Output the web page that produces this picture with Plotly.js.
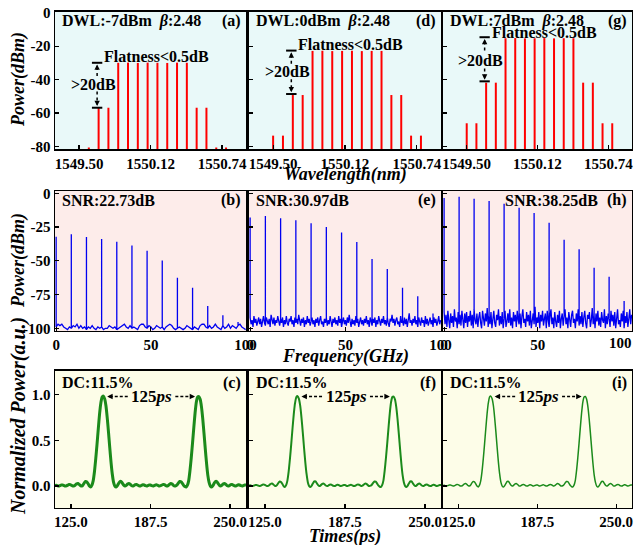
<!DOCTYPE html>
<html><head><meta charset="utf-8">
<script src="https://cdn.plot.ly/plotly-3.0.1.min.js"></script>
<style>html,body{margin:0;padding:0;background:#fff}#chart{width:636px;height:545px}</style>
</head><body><div id="chart"></div>
<script>
// ---------- Row 1 : optical spectra ----------
const wavelengthNm = [1549.500,1549.585,1549.670,1549.755,1549.840,1549.925,1550.010,1550.095,1550.180,1550.265,1550.350,1550.435,1550.520,1550.605,1550.690,1550.775];
const powerA = [-80.6,-80.6,-56.8,-56.8,-29.9,-29.8,-30.0,-29.8,-29.9,-30.0,-29.8,-29.9,-56.8,-56.8,-80.6,-80.6];
const powerD = [-73.5,-73.5,-49.2,-49.2,-22.8,-22.7,-22.9,-22.8,-22.7,-22.9,-22.8,-22.8,-49.2,-49.2,-73.5,-73.5];
const powerG = [-66.1,-66.1,-41.8,-41.8,-15.2,-15.1,-15.3,-15.2,-15.1,-15.3,-15.2,-15.2,-41.8,-41.8,-66.1,-66.1];
const wlTickVals = [1549.50,1550.12,1550.74];
const wlTickText = ['1549.50','1550.12','1550.74'];
const dwlLabels = ['DWL:-7dBm\u00a0\u00a0<i>β</i>:2.48','DWL:0dBm\u00a0\u00a0<i>β</i>:2.48','DWL:7dBm\u00a0\u00a0<i>β</i>:2.48'];
// >20dB marker levels [upper bar, lower bar, text level, flatness text level]
const markerA = [-29.9,-56.8,-42.6,-26.4];
const markerD = [-22.6,-48.6,-35.2,-18.7];
const markerG = [-14.6,-41.0,-28.8,-11.5];

// ---------- Row 2 : RF spectra ----------
const rfPeakFreq = [0,8,16,24,32,40,48,56,64,72,80,88,96];
const rfPeakB = [-32.2,-30.4,-32.4,-33.9,-35.9,-38.6,-42.5,-49.7,-62.5,-70.0,-83.5,-90.4,-95.4];
const rfPeakE = [-18.0,-16.9,-18.5,-20.0,-22.2,-25.0,-29.0,-36.1,-48.7,-56.1,-70.0,-76.3,-89.0];
const rfPeakH = [-3.5,-2.6,-4.0,-5.7,-7.8,-10.7,-14.6,-21.8,-34.4,-41.5,-55.1,-61.8,-79.8];
const rfTickVals = [0,50,100];
const rfTickText = ['0','50','100'];
const snrLabels = ['SNR:22.73dB','SNR:30.97dB','SNR:38.25dB'];
// noise floor, panel (b): 1 GHz steps from 0 GHz
const noiseB = [-99,-97,-98,-97,-99,-100,-101,-99,-100,-98,-99,-97,-100,-98,-100,-99,-101,-99,-100,-98,
-100,-101,-99,-100,-99,-101,-100,-100,-98,-99,-100,-99,-101,-100,-99,-98,-97,-99,-100,-98,
-100,-99,-100,-101,-98,-97,-97,-99,-100,-98,-99,-101,-100,-98,-99,-100,-99,-101,-99,-98,
-97,-98,-100,-101,-100,-99,-100,-101,-100,-98,-99,-100,-101,-99,-100,-101,-98,-97,-97,-99,
-100,-98,-100,-99,-97,-99,-100,-101,-98,-100,-99,-97,-100,-98,-99,-100,-98,-97,-99,-100,-101];
// noise floor, panel (e): 0.5 GHz steps from 0 GHz
const noiseE = [-92,-97,-94,-99,-91,-96,-93,-98,-95,-92,-97,-93,-99,-94,-91,-96,-98,-92,-95,-97,
-93,-99,-90,-95,-97,-92,-98,-94,-96,-91,-95,-98,-93,-96,-92,-99,-94,-97,-91,-96,
-98,-93,-95,-91,-97,-94,-99,-92,-96,-93,-97,-90,-95,-98,-93,-96,-92,-99,-94,-97,
-91,-96,-93,-98,-95,-92,-97,-94,-99,-93,-96,-92,-98,-94,-91,-97,-95,-99,-93,-96,
-92,-98,-94,-97,-91,-95,-99,-93,-96,-92,-97,-94,-98,-91,-96,-93,-99,-95,-92,-97,
-94,-98,-92,-96,-90,-95,-99,-93,-97,-94,-98,-91,-96,-93,-99,-95,-92,-97,-94,-98,
-93,-96,-91,-97,-94,-99,-92,-95,-98,-93,-96,-92,-99,-94,-97,-91,-95,-98,-93,-96,
-91,-97,-94,-98,-92,-96,-99,-93,-95,-90,-96,-93,-98,-94,-92,-97,-95,-99,-91,-96,
-94,-98,-92,-97,-93,-99,-95,-89,-96,-94,-98,-93,-96,-91,-97,-94,-99,-92,-95,-98,
-92,-96,-94,-99,-91,-97,-93,-98,-95,-92,-97,-94,-99,-92,-96,-93,-98,-95,-91,-97,-94];
// noise floor, panel (h): 0.5 GHz steps from 0 GHz
const noiseH = [-88,-97,-90,-99,-87,-94,-100,-89,-96,-91,-99,-86,-95,-92,-100,-88,-97,-90,-98,-87,
-93,-100,-89,-96,-88,-99,-91,-95,-87,-98,-90,-100,-86,-94,-97,-89,-99,-92,-88,-96,
-100,-87,-93,-98,-89,-95,-85,-99,-91,-97,-88,-100,-92,-87,-96,-99,-90,-94,-86,-98,
-91,-97,-88,-100,-93,-87,-99,-95,-89,-96,-86,-98,-92,-100,-88,-95,-90,-99,-87,-94,
-97,-89,-100,-91,-86,-96,-93,-99,-88,-95,-90,-98,-87,-100,-94,-89,-97,-84,-99,-92,
-96,-88,-100,-90,-95,-87,-98,-93,-89,-100,-87,-94,-99,-91,-86,-97,-92,-100,-88,-95,
-99,-90,-96,-87,-100,-93,-89,-98,-91,-86,-97,-92,-100,-88,-94,-99,-90,-87,-96,-93,
-100,-89,-95,-86,-98,-91,-97,-88,-99,-92,-87,-96,-100,-90,-93,-88,-99,-94,-85,-97,
-91,-100,-89,-95,-87,-98,-92,-99,-88,-94,-96,-86,-100,-91,-97,-89,-93,-99,-87,-95,
-90,-98,-88,-100,-92,-86,-97,-94,-99,-89,-95,-87,-100,-91,-96,-88,-99,-93,-86,-97,-90];

// ---------- Row 3 : temporal pulses ----------
const timeStartPs = 112.5, timeStepPs = 1.0;
const pulseTrace = [
0.006,0.008,0.004,0.0,0.006,0.012,0.012,0.006,0.0,0.003,0.01,0.018,0.016,0.008,0.0,0.002,0.012,0.025,0.028,0.018,0.005,0.0,0.012,0.035,0.05,0.045,0.025,0.0,-0.01,
0.01,0.06,0.16,0.30,0.46,0.63,0.79,0.91,0.975,0.985,0.955,0.88,0.75,0.59,0.42,0.26,0.13,0.04,0.0,
-0.01,0.005,0.03,0.05,0.05,0.03,0.01,0.0,0.008,0.022,0.028,0.02,0.006,0.0,0.006,0.015,0.018,0.01,0.002,0.0,0.008,0.014,0.012,0.004,0.0,0.006,0.012,0.012,0.004,0.0,0.006,0.012,0.013,0.006,0.0,0.004,0.012,0.018,0.015,0.006,0.0,0.008,0.02,0.028,0.022,0.008,0.0,0.004,0.015,0.035,0.05,0.048,0.03,0.008,-0.005,-0.01,
0.01,0.06,0.17,0.31,0.47,0.64,0.80,0.92,0.975,0.98,0.95,0.87,0.74,0.58,0.41,0.25,0.12,0.04,0.0,
-0.01,0.005,0.03,0.05,0.05,0.03,0.01,0.0,0.008,0.022,0.028,0.02,0.006,0.0,0.006,0.015,0.018,0.01,0.002,0.0,0.008,0.014,0.012,0.004,0.0,0.006,0.012,0.012];
const pulseLineWidth = [3, 2, 1.5];
const dcLabels = ['DC:11.5%','DC:11.5%','DC:11.5%'];
const periodLabel = '125<i>ps</i>';
const periodArrow = [153.5, 170.0, 207.0, 222.5, 0.98]; // left head, left tail, right tail, right head, level
const panelLetters = ['(a)','(d)','(g)','(b)','(e)','(h)','(c)','(f)','(i)'];

// ---------- styling ----------
const F = 'Liberation Serif, Times New Roman, serif';
const colDom = [[0.0865,0.3868],[0.3915,0.6934],[0.6965,0.9937]];
const rowDom = [[0.7266,0.9780],[0.3927,0.6495],[0.0679,0.3193]];
const rowBg = ['#E9F9F9','#FDECEA','#FDFDE8'];
const rowX = [
  {range:[1549.292,1550.948], tickvals:wlTickVals, ticktext:wlTickText},
  {range:[-0.6,100.2], tickvals:rfTickVals, ticktext:rfTickText},
  {range:[112.5,262.5], tickvals:[125,187.5,250], ticktext:['125.0','187.5','250.0']}];
const rowY = [
  {range:[-81.5,0.5], tickvals:[0,-20,-40,-60,-80], ticktext:['0','-20','-40','-60','-80']},
  {range:[-102,1.7], tickvals:[0,-25,-50,-75,-100], ticktext:['0','-25','-50','-75','-100']},
  {range:[-0.24,1.26], tickvals:[0,0.5,1], ticktext:['0.0','0.5','1.0']}];

const traces = [], shapes = [], annotations = [];
const layout = {width:636, height:545, margin:{l:0,r:0,t:0,b:0}, showlegend:false,
  paper_bgcolor:'#ffffff', plot_bgcolor:'rgba(0,0,0,0)'};

const tickFont = {family:F, size:15, color:'#000', weight:'bold'};
for (let i = 1; i <= 9; i++) {
  const r = Math.floor((i-1)/3), c = (i-1)%3, id = i === 1 ? '' : String(i);
  const base = {showline:true, mirror:true, linecolor:'#000', linewidth:1.5, ticks:'inside', ticklen:4,
    tickwidth:1.2, tickcolor:'#000', showgrid:false, zeroline:false, tickfont:tickFont, fixedrange:true,
    ticklabeloverflow:'allow'};
  const xo = Object.assign({}, base, rowX[r], {domain:colDom[c], anchor:'y'+id, tickmode:'array'});
  if (i === 6) {
    // right-most RF panel: last label drawn as an annotation so it stays inside the page like the reference
    xo.ticktext = rfTickText.map((t, k) => k === rfTickText.length-1 ? '' : t);
    annotations.push({xref:'x6', yref:'y6 domain', x:rfTickVals[rfTickVals.length-1], y:0, xanchor:'right', yanchor:'top',
      xshift:2, yshift:-2, showarrow:false, text:rfTickText[rfTickText.length-1], font:tickFont});
  }
  layout['xaxis'+id] = xo;
  layout['yaxis'+id] = Object.assign({}, base, rowY[r], {domain:rowDom[r], anchor:'x'+id, tickmode:'array', showticklabels:c===0});
  shapes.push({type:'rect', xref:'x'+id+' domain', yref:'y'+id+' domain', x0:0, x1:1, y0:0, y1:1,
    fillcolor:rowBg[r], line:{width:0}, layer:'below'});
  annotations.push({xref:'x'+id+' domain', yref:'y'+id+' domain', x:0.985, y:r===2?0.915:0.935,
    xanchor:'right', yanchor:'middle', showarrow:false, text:'<b>'+panelLetters[i-1]+'</b>', font:{family:F,size:16,color:'#000'}});
}

// Row 1 traces
[powerA, powerD, powerG].forEach((p, c) => {
  const id = c === 0 ? '' : String(c+1);
  const xs = [], ys = [];
  wavelengthNm.forEach((w, k) => { xs.push(w, w, null); ys.push(-100, p[k], null); });
  traces.push({type:'scatter', mode:'lines', x:xs, y:ys, xaxis:'x'+id, yaxis:'y'+id,
    line:{color:'#FF0000', width:2}, hoverinfo:'skip'});
  annotations.push({xref:'x'+id+' domain', yref:'y'+id+' domain', x:0.027, y:0.935, xanchor:'left', yanchor:'middle',
    showarrow:false, text:'<b>'+dwlLabels[c]+'</b>', font:{family:F,size:16,color:'#000'}});
  const m = [markerA, markerD, markerG][c];
  const xb0 = 1549.612, xb1 = 1549.702, xm = 1549.657;
  [m[0], m[1]].forEach(yv => shapes.push({type:'line', xref:'x'+id, yref:'y'+id, x0:xb0, x1:xb1, y0:yv, y1:yv, line:{color:'#000', width:2}}));
  shapes.push({type:'line', xref:'x'+id, yref:'y'+id, x0:xm, x1:xm, y0:m[0]-2.5, y1:m[2]+4.5, line:{color:'#000', width:1.5, dash:'dot'}});
  shapes.push({type:'line', xref:'x'+id, yref:'y'+id, x0:xm, x1:xm, y0:m[2]-4.5, y1:m[1]+2.5, line:{color:'#000', width:1.5, dash:'dot'}});
  annotations.push({xref:'x'+id, yref:'y'+id, x:xm, y:m[0]-1, ax:0, ay:5, text:'', showarrow:true, arrowhead:2, arrowsize:0.9, arrowwidth:1.2, arrowcolor:'#000'});
  annotations.push({xref:'x'+id, yref:'y'+id, x:xm, y:m[1]+1, ax:0, ay:-5, text:'', showarrow:true, arrowhead:2, arrowsize:0.9, arrowwidth:1.2, arrowcolor:'#000'});
  annotations.push({xref:'x'+id, yref:'y'+id, x:1549.625, y:m[2], xanchor:'center', yanchor:'middle', showarrow:false,
    text:'<b>&gt;20dB</b>', font:{family:F,size:16,color:'#000'}});
  annotations.push({xref:'x'+id, yref:'y'+id, x:1549.700, y:m[3], xanchor:'left', yanchor:'middle', showarrow:false,
    text:'<b>Flatness&lt;0.5dB</b>', font:{family:F,size:16,color:'#000'}});
});

// Row 2 traces
const rfSets = [[noiseB,1,rfPeakB],[noiseE,0.5,rfPeakE],[noiseH,0.5,rfPeakH]];
rfSets.forEach((s, c) => {
  const id = String(c+4);
  const xs = [], ys = [];
  s[0].forEach((v, i) => {
    const f = Math.round(i*s[1]*100)/100;
    xs.push(f); ys.push(v);
    const j = rfPeakFreq.indexOf(f);
    if (j >= 0) { xs.push(f, f); ys.push(s[2][j], v); }
  });
  traces.push({type:'scatter', mode:'lines', x:xs, y:ys, xaxis:'x'+id, yaxis:'y'+id,
    line:{color:'#0000F0', width:1.3}, hoverinfo:'skip'});
  const right = c === 2;
  annotations.push({xref:'x'+id+' domain', yref:'y'+id+' domain', x:right?0.83:0.027, y:0.935,
    xanchor:right?'right':'left', yanchor:'middle', showarrow:false, text:'<b>'+snrLabels[c]+'</b>', font:{family:F,size:16,color:'#000'}});
});

// Row 3 traces
[0,1,2].forEach(c => {
  const id = String(c+7);
  const xs = pulseTrace.map((v, i) => timeStartPs + i*timeStepPs);
  traces.push({type:'scatter', mode:'lines', x:xs, y:pulseTrace, xaxis:'x'+id, yaxis:'y'+id,
    line:{color:'#1B8A1B', width:pulseLineWidth[c], shape:'spline', smoothing:0.6}, hoverinfo:'skip'});
  annotations.push({xref:'x'+id+' domain', yref:'y'+id+' domain', x:0.027, y:0.915, xanchor:'left', yanchor:'middle',
    showarrow:false, text:'<b>'+dcLabels[c]+'</b>', font:{family:F,size:16,color:'#000'}});
  const a = periodArrow;
  shapes.push({type:'line', xref:'x'+id, yref:'y'+id, x0:a[0]+2, x1:a[1], y0:a[4], y1:a[4], line:{color:'#000', width:1.5, dash:'3px,2px'}});
  shapes.push({type:'line', xref:'x'+id, yref:'y'+id, x0:a[2], x1:a[3]-2, y0:a[4], y1:a[4], line:{color:'#000', width:1.5, dash:'3px,2px'}});
  annotations.push({xref:'x'+id, yref:'y'+id, x:a[0], y:a[4], ax:5, ay:0, text:'', showarrow:true, arrowhead:2, arrowsize:0.9, arrowwidth:1.2, arrowcolor:'#000'});
  annotations.push({xref:'x'+id, yref:'y'+id, x:a[3], y:a[4], ax:-5, ay:0, text:'', showarrow:true, arrowhead:2, arrowsize:0.9, arrowwidth:1.2, arrowcolor:'#000'});
  annotations.push({xref:'x'+id, yref:'y'+id, x:(a[1]+a[2])/2, y:a[4], xanchor:'center', yanchor:'middle', showarrow:false,
    text:'<b>'+periodLabel+'</b>', font:{family:F,size:17,color:'#000'}});
});

// Axis titles
const tf = {family:F, size:18, color:'#000'};
annotations.push({xref:'paper', yref:'paper', x:18/636, y:1-80/545, textangle:-90, showarrow:false, xanchor:'center', yanchor:'middle', text:'<b><i>Power(dBm)</i></b>', font:tf});
annotations.push({xref:'paper', yref:'paper', x:18/636, y:1-261/545, textangle:-90, showarrow:false, xanchor:'center', yanchor:'middle', text:'<b><i>Power(dBm)</i></b>', font:tf});
annotations.push({xref:'paper', yref:'paper', x:18/636, y:1-416/545, textangle:-90, showarrow:false, xanchor:'center', yanchor:'middle', text:'<b><i>Normalized Power(a.u.)</i></b>', font:{family:F, size:20, color:'#000'}});
annotations.push({xref:'paper', yref:'paper', x:345/636, y:1-174/545, showarrow:false, xanchor:'center', yanchor:'middle', text:'<b><i>Wavelength(nm)</i></b>', font:tf});
annotations.push({xref:'paper', yref:'paper', x:345/636, y:1-356/545, showarrow:false, xanchor:'center', yanchor:'middle', text:'<b><i>Frequency(GHz)</i></b>', font:tf});
annotations.push({xref:'paper', yref:'paper', x:345/636, y:1-536/545, showarrow:false, xanchor:'center', yanchor:'middle', text:'<b><i>Times(ps)</i></b>', font:tf});

layout.shapes = shapes;
layout.annotations = annotations;
Plotly.newPlot('chart', traces, layout, {staticPlot:true, displayModeBar:false});
</script></body></html>
